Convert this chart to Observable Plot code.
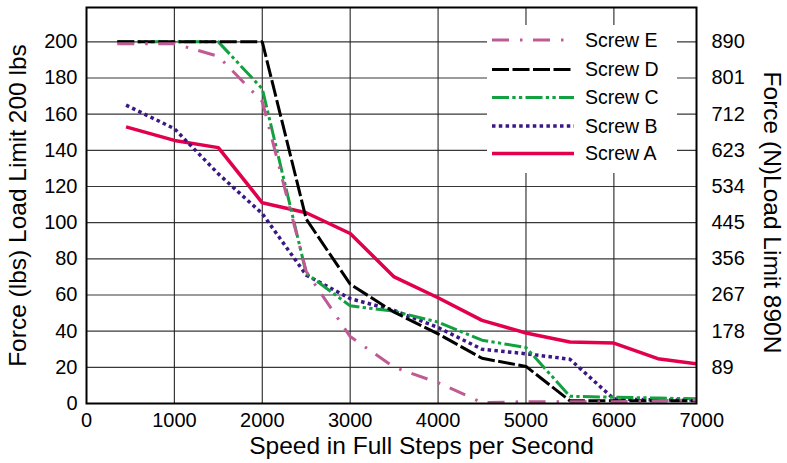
<!DOCTYPE html>
<html><head><meta charset="utf-8">
<script src="https://cdn.jsdelivr.net/npm/d3@7"></script>
<script src="https://cdn.jsdelivr.net/npm/@observablehq/plot@0.6"></script>
<style>
body{margin:0;background:#fff;}
#wrap{position:relative;width:787px;height:463px;font-family:"Liberation Sans",Arial,sans-serif;}
#legend{position:absolute;left:0;top:0;pointer-events:none;}
</style></head><body><div id="wrap"></div>
<script>
// ---- data ----
const speedsAB  = [450, 1000, 1500, 2000, 2500, 3000, 3500, 4000, 4500, 5000, 5500, 6000, 6500, 7000];
const speedsCDE = [350, 1000, 1500, 2000, 2500, 3000, 3500, 4000, 4500, 5000, 5500, 6000, 6500, 7000];
const screwA = [153, 145.5, 141.5, 111, 105.5, 94, 70, 58.5, 46, 39, 34, 33.4, 24.8, 21.5];
const screwB = [165, 152, 127, 105, 71, 58, 51.5, 42, 30, 27.5, 24.5, 2.5, 2, 2];
const screwC = [200, 200, 200, 174, 72, 54, 51, 45, 35, 31, 4, 3.5, 3, 2.5];
const screwD = [200, 200, 200, 200, 102, 66, 50.5, 38.5, 25, 20.5, 1.5, 1.5, 1.5, 1.5];
const screwE = [199, 199, 192, 167, 73, 37, 20, 11.5, 0.5, 1, 1, 1, 1.5, 2];
const seriesNames = ["Screw E", "Screw D", "Screw C", "Screw B", "Screw A"];
const xTicks = [0, 1000, 2000, 3000, 4000, 5000, 6000, 7000];
const yTicks = [0, 20, 40, 60, 80, 100, 120, 140, 160, 180, 200];
const nTicks = [89, 178, 267, 356, 445, 534, 623, 712, 801, 890];
const xTitle = "Speed in Full Steps per Second";
const yTitle = "Force (lbs) Load Limit 200 lbs";
const y2Title = "Force (N)Load Limit 890N";

// ---- styles ----
const styles = {
  "Screw E": {color: "#c05a94", dash: "17,11,2.5,10.5", width: 3},
  "Screw D": {color: "#000000", dash: "17,3.5", width: 3},
  "Screw C": {color: "#12a040", dash: "17,3.3,3.3,3.3,3.3,3.3", width: 3},
  "Screw B": {color: "#3b1686", dash: "3.5,3.3", width: 3.5},
  "Screw A": {color: "#e2004e", dash: null, width: 3.5}
};
const series = [
  {name: "Screw A", xs: speedsAB, ys: screwA},
  {name: "Screw B", xs: speedsAB, ys: screwB},
  {name: "Screw C", xs: speedsCDE, ys: screwC},
  {name: "Screw D", xs: speedsCDE, ys: screwD},
  {name: "Screw E", xs: speedsCDE, ys: screwE}
];
const font = '"Liberation Sans", Arial, sans-serif';

const lineMarks = series.map(s => {
  const st = styles[s.name];
  const data = s.xs.map((x, i) => ({speed: x, force: s.ys[i]}));
  const o = {x: "speed", y: "force", stroke: st.color, strokeWidth: st.width, clip: true, strokeLinejoin: "miter", strokeLinecap: "butt"};
  if (st.dash) o.strokeDasharray = st.dash;
  return Plot.line(data, o);
});

const chart = Plot.plot({
  width: 787, height: 463,
  marginLeft: 86, marginRight: 91, marginTop: 7, marginBottom: 60,
  style: {fontFamily: font, background: "white", color: "black"},
  x: {domain: [0, 6940]},
  y: {domain: [0, 219]},
  marks: [
    Plot.gridY(yTicks.filter(d => d > 0), {stroke: "#222", strokeOpacity: 0.9, strokeWidth: 1.2}),
    Plot.gridX(xTicks.filter(d => d > 0 && d < 7000), {stroke: "#222", strokeOpacity: 0.9, strokeWidth: 1.2}),
    ...lineMarks,
    Plot.frame({stroke: "black", strokeWidth: 2}),
    Plot.axisY(yTicks, {anchor: "left", tickSize: 0, tickPadding: 9, fontSize: 20, label: null}),
    Plot.axisY(nTicks.map(n => n / 4.45), {anchor: "right", tickSize: 0, tickPadding: 15, fontSize: 20, label: null,
      textAnchor: "start", tickFormat: d => String(Math.round(d * 4.45))}),
    Plot.axisX(xTicks, {anchor: "bottom", tickSize: 0, tickPadding: 9, fontSize: 20, label: null, tickFormat: d => String(d)}),
    Plot.text([xTitle], {frameAnchor: "bottom", dx: 30, dy: 43, fontSize: 24.5, text: d => d,
      textAnchor: "middle", lineAnchor: "middle"}),
    Plot.text([yTitle], {frameAnchor: "left", dx: -68, dy: 0, rotate: -90, fontSize: 24.5, text: d => d,
      textAnchor: "middle", lineAnchor: "middle"}),
    Plot.text([y2Title], {frameAnchor: "right", dx: 75, dy: 7, rotate: 90, fontSize: 24.5, text: d => d,
      textAnchor: "middle", lineAnchor: "middle"})
  ]
});
const wrap = document.getElementById("wrap");
wrap.appendChild(chart);

// ---- legend overlay ----
const box = {x: 487, y: 25, w: 190, h: 148};
const rowY = [40, 69.5, 97.5, 126, 153.5];
const leg = d3.select(wrap).append("svg").attr("id", "legend").attr("width", 787).attr("height", 463);
leg.append("rect").attr("x", box.x).attr("y", box.y).attr("width", box.w).attr("height", box.h).attr("fill", "white");
seriesNames.forEach((name, i) => {
  const st = styles[name];
  const ln = leg.append("line").attr("x1", 492).attr("x2", 574).attr("y1", rowY[i]).attr("y2", rowY[i])
    .attr("stroke", st.color).attr("stroke-width", st.width);
  if (st.dash) ln.attr("stroke-dasharray", st.dash);
  leg.append("text").attr("x", 585).attr("y", rowY[i]).attr("dy", "0.35em")
    .attr("font-family", font).attr("font-size", 19.5).text(name);
});
</script>
</body></html>
